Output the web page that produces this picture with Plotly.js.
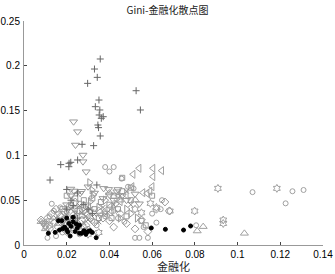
<!DOCTYPE html>
<html><head><meta charset="utf-8">
<script src="https://cdn.plot.ly/plotly-3.0.1.min.js"></script>
<style>html,body{margin:0;padding:0;background:#fff}#c{width:335px;height:274px}</style>
</head><body><div id="c"></div>
<script>
const plusPts = [[0.0357,0.2076],[0.0330,0.1964],[0.0343,0.1871],[0.0298,0.1804],[0.0525,0.1722],[0.0351,0.1618],[0.0545,0.1507],[0.0334,0.1544],[0.0355,0.1507],[0.0352,0.1451],[0.0362,0.1414],[0.0371,0.1432],[0.0346,0.1339],[0.0349,0.1310],[0.0357,0.1217],[0.0272,0.1124],[0.0326,0.1109],[0.0172,0.0897],[0.0211,0.0912],[0.0219,0.0923],[0.0210,0.0874],[0.0251,0.0949],[0.0122,0.0725],[0.0341,0.0670],[0.0200,0.0620],[0.0250,0.0580],[0.0220,0.0500],[0.0280,0.0450],[0.0300,0.0400],[0.0320,0.0350],[0.0250,0.0300],[0.0200,0.0400],[0.0230,0.0440]];
const triDownPts = [[0.0232,0.1376],[0.0251,0.1265],[0.0241,0.1116],[0.0276,0.1004],[0.0276,0.0930],[0.0291,0.0818],[0.0219,0.0625],[0.0235,0.0603],[0.0263,0.0577],[0.0373,0.0632],[0.0396,0.0621],[0.0435,0.0595],[0.0310,0.0372],[0.0357,0.0335],[0.0200,0.0450],[0.0220,0.0550],[0.0270,0.0600],[0.0300,0.0650],[0.0330,0.0580],[0.0370,0.0520],[0.0400,0.0560],[0.0420,0.0500],[0.0440,0.0620],[0.0460,0.0550],[0.0480,0.0500],[0.0520,0.0570],[0.0540,0.0460],[0.0160,0.0350],[0.0120,0.0270],[0.0090,0.0240]];
const triLeftPts = [[0.0511,0.0789],[0.0539,0.0856],[0.0604,0.0856],[0.0645,0.0830],[0.0604,0.0763],[0.0600,0.0651],[0.0557,0.0584],[0.0576,0.0577],[0.0506,0.0651],[0.0451,0.0484],[0.0479,0.0558],[0.0404,0.0428],[0.0380,0.0380],[0.0440,0.0560],[0.0590,0.0600]];
const triRightPts = [[0.0307,0.0696],[0.0318,0.0614],[0.0310,0.0484],[0.0325,0.0560],[0.0280,0.0380],[0.0350,0.0420],[0.0380,0.0500],[0.0420,0.0380],[0.0450,0.0300],[0.0430,0.0460],[0.0480,0.0400],[0.0500,0.0350],[0.0530,0.0300]];
const circlePts = [[0.009,0.025],[0.010,0.020],[0.011,0.008],[0.012,0.032],[0.013,0.046],[0.014,0.038],[0.015,0.010],[0.016,0.028],[0.017,0.042],[0.018,0.014],[0.019,0.030],[0.020,0.036],[0.021,0.022],[0.023,0.016],[0.024,0.040],[0.026,0.012],[0.028,0.020],[0.030,0.018],[0.032,0.027],[0.034,0.022],[0.038,0.032],[0.041,0.038],[0.044,0.030],[0.047,0.026],[0.052,0.008],[0.054,0.008],[0.056,0.020],[0.058,0.008],[0.060,0.035],[0.062,0.025],[0.064,0.040],[0.0646,0.050],[0.0457,0.074],[0.038,0.087],[0.042,0.087],[0.040,0.082],[0.0487,0.065],[0.0513,0.063],[0.0806,0.022],[0.107,0.059],[0.1225,0.0465],[0.1257,0.060],[0.1309,0.0614]];
const hexPts = [[0.0908,0.0632],[0.1184,0.0632],[0.0799,0.0379],[0.0683,0.0379],[0.0933,0.0279],[0.0933,0.0240],[0.0592,0.0465],[0.0620,0.0420],[0.055,0.036],[0.052,0.040],[0.035,0.014],[0.030,0.012],[0.018,0.028],[0.012,0.022]];
const diamondPts = [[0.008,0.028],[0.010,0.022],[0.011,0.030],[0.012,0.018],[0.013,0.035],[0.014,0.025],[0.015,0.040],[0.016,0.020],[0.017,0.032],[0.018,0.027],[0.019,0.037],[0.020,0.015],[0.021,0.043],[0.022,0.024],[0.023,0.033],[0.024,0.048],[0.025,0.019],[0.026,0.038],[0.027,0.028],[0.028,0.042],[0.029,0.022],[0.030,0.034],[0.031,0.030],[0.033,0.025],[0.035,0.038],[0.037,0.030],[0.040,0.027],[0.042,0.020],[0.045,0.035],[0.048,0.024],[0.052,0.018],[0.055,0.028],[0.058,0.015],[0.062,0.040],[0.066,0.048],[0.068,0.038]];
const squarePts = [[0.018,0.040],[0.020,0.055],[0.022,0.045],[0.023,0.030],[0.024,0.052],[0.025,0.038],[0.026,0.046],[0.027,0.033],[0.028,0.050],[0.030,0.044],[0.032,0.052],[0.033,0.040],[0.035,0.030],[0.036,0.048],[0.038,0.035],[0.040,0.045],[0.041,0.030],[0.042,0.055],[0.044,0.040],[0.046,0.060],[0.048,0.032],[0.050,0.050],[0.055,0.027],[0.057,0.022],[0.060,0.055],[0.046,0.075],[0.050,0.064]];
const xPts = [[0.015,0.030],[0.018,0.022],[0.020,0.034],[0.021,0.028],[0.022,0.040],[0.023,0.020],[0.024,0.035],[0.025,0.026],[0.026,0.044],[0.027,0.036],[0.028,0.025],[0.029,0.032],[0.030,0.028],[0.031,0.040],[0.033,0.034],[0.035,0.026],[0.037,0.042],[0.039,0.036],[0.042,0.045],[0.045,0.055],[0.048,0.060],[0.050,0.045]];
const triUpPts = [[0.1032,0.0130],[0.0839,0.0205],[0.0811,0.0156],[0.0521,0.0502],[0.045,0.050],[0.040,0.058],[0.030,0.015],[0.025,0.025],[0.022,0.018],[0.016,0.024],[0.010,0.018],[0.008,0.026]];
const dotPts = [[0.0780,0.0212],[0.0747,0.0167],[0.0662,0.0175],[0.0596,0.0190],[0.0338,0.0082],[0.0216,0.0100],[0.0114,0.0130],[0.0146,0.0141],[0.0166,0.0167],[0.0161,0.0272],[0.0177,0.0272],[0.019,0.020],[0.020,0.017],[0.021,0.024],[0.022,0.021],[0.023,0.026],[0.024,0.015],[0.025,0.019],[0.026,0.022],[0.027,0.013],[0.028,0.016],[0.029,0.012],[0.030,0.015],[0.031,0.016],[0.032,0.014],[0.020,0.030],[0.023,0.031],[0.018,0.018],[0.0205,0.0145],[0.0245,0.0235],[0.026,0.013],[0.0285,0.0145]];

const groups = [
  {pts: circlePts, symbol:'circle-open', size:5, color:'#a0a0a0'},
  {pts: diamondPts, symbol:'diamond-open', size:6, color:'#999'},
  {pts: squarePts, symbol:'square-open', size:5, color:'#999'},
  {pts: xPts, symbol:'x-thin-open', size:5, color:'#888'},
  {pts: hexPts, symbol:'hexagram-open', size:6, color:'#a0a0a0'},
  {pts: triUpPts, symbol:'triangle-up-open', size:7, color:'#a0a0a0'},
  {pts: triRightPts, symbol:'triangle-right-open', size:7, color:'#999'},
  {pts: triLeftPts, symbol:'triangle-left-open', size:7, color:'#a0a0a0'},
  {pts: triDownPts, symbol:'triangle-down-open', size:7, color:'#999'},
  {pts: plusPts, symbol:'cross-thin-open', size:5, color:'#666'},
  {pts: dotPts, symbol:'circle', size:4, color:'#000'}
];
const traces = groups.map(g => ({
  type:'scatter', mode:'markers',
  x: g.pts.map(p=>p[0]), y: g.pts.map(p=>p[1]),
  marker:{symbol:g.symbol, size:g.size, color:g.color, line:{width:1, color:g.color}},
  showlegend:false, hoverinfo:'none'
}));
const font = {family:'Liberation Sans, Arial, sans-serif', size:10, color:'#000'};
const layout = {
  width:335, height:274,
  margin:{l:24, r:12, t:21, b:29},
  paper_bgcolor:'#fff', plot_bgcolor:'#fff',
  font: font,
  title:{text:'Gini-金融化散点图', font:{family:'Noto Sans CJK SC, sans-serif', size:10, color:'#222'}, x:0.5, xanchor:'center', y:0.975, yanchor:'top'},
  xaxis:{range:[0,0.14], dtick:0.02, tick0:0, ticks:'inside', ticklen:3, tickcolor:'#444', showline:true, linecolor:'#999', linewidth:1, showgrid:false, zeroline:false, tickfont:font,
    title:{text:'金融化', font:{family:'Noto Sans CJK SC, sans-serif', size:11, color:'#222'}, standoff:4}},
  yaxis:{range:[0,0.25], dtick:0.05, tick0:0, ticks:'inside', ticklen:3, tickcolor:'#444', showline:true, linecolor:'#999', linewidth:1, showgrid:false, zeroline:false, tickfont:font, ticklabelstandoff:1}
};
Plotly.newPlot('c', traces, layout, {staticPlot:true, displayModeBar:false});
</script></body></html>
